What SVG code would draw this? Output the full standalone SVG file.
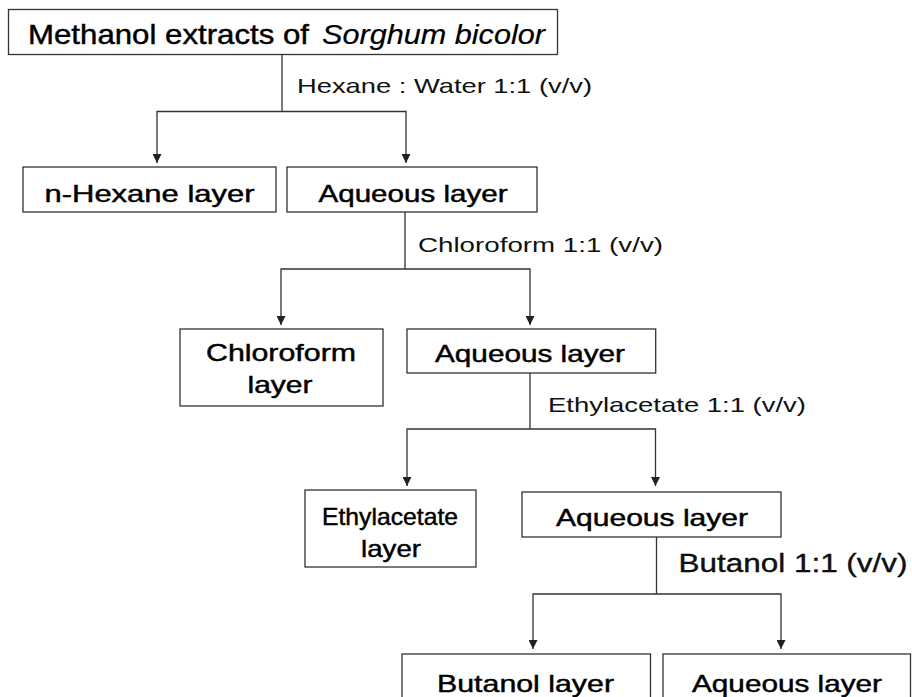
<svg xmlns="http://www.w3.org/2000/svg" width="912" height="697" viewBox="0 0 912 697">
<style>
.box{fill:#fff;stroke:#333;stroke-width:1.3}
.ln{fill:none;stroke:#333;stroke-width:1.3}
.t{font-family:"Liberation Sans",Arial,sans-serif;font-size:24px;fill:#000;stroke:#000;stroke-width:0.45}
.big{font-size:28px}
.lab{font-family:"Liberation Sans",Arial,sans-serif;font-size:21px;fill:#111}
.lab2{font-size:26px;stroke:#000;stroke-width:0.35}
.it{font-style:italic;stroke-width:0.2}
</style>
<defs>
<marker id="ah" viewBox="0 0 10 10" refX="10" refY="5" markerWidth="10" markerHeight="9" markerUnits="userSpaceOnUse" orient="auto-start-reverse">
<path d="M0,0 L10,5 L0,10 z" fill="#222"/>
</marker>
</defs>
<rect width="912" height="697" fill="#fff"/>
<g id="connectors">
<path class="ln" d="M282,54.5 V111.5"/>
<path class="ln" d="M157,163 V111.5 H406 V163" marker-start="url(#ah)" marker-end="url(#ah)"/>
<path class="ln" d="M405,212 V269"/>
<path class="ln" d="M281,325 V269 H530 V325" marker-start="url(#ah)" marker-end="url(#ah)"/>
<path class="ln" d="M530,373 V429"/>
<path class="ln" d="M407,486 V429 H655.5 V486" marker-start="url(#ah)" marker-end="url(#ah)"/>
<path class="ln" d="M656.5,537 V594"/>
<path class="ln" d="M533,649 V594 H781 V649" marker-start="url(#ah)" marker-end="url(#ah)"/>
</g>
<g id="labels">
<text class="lab" x="297" y="93" textLength="295" lengthAdjust="spacingAndGlyphs">Hexane : Water 1:1 (v/v)</text>
<text class="lab" x="418" y="251.5" textLength="245" lengthAdjust="spacingAndGlyphs">Chloroform 1:1 (v/v)</text>
<text class="lab" x="548" y="412" textLength="258" lengthAdjust="spacingAndGlyphs">Ethylacetate 1:1 (v/v)</text>
<text class="lab lab2" x="678.5" y="572" textLength="229" lengthAdjust="spacingAndGlyphs">Butanol 1:1 (v/v)</text>
</g>
<g id="methanol">
<rect class="box" x="8.5" y="9.5" width="549" height="45"/>
<text class="t big" x="28" y="43.5" textLength="281" lengthAdjust="spacingAndGlyphs">Methanol extracts of</text>
<text class="t big it" x="322" y="43.5" textLength="223" lengthAdjust="spacingAndGlyphs">Sorghum bicolor</text>
</g>
<g id="hexane">
<rect class="box" x="23" y="167" width="253" height="45"/>
<text class="t" x="149.5" y="202" text-anchor="middle" textLength="210" lengthAdjust="spacingAndGlyphs">n-Hexane layer</text>
</g>
<g id="aqueous1">
<rect class="box" x="287" y="167" width="250" height="45"/>
<text class="t" x="413" y="202" text-anchor="middle" textLength="189" lengthAdjust="spacingAndGlyphs">Aqueous layer</text>
</g>
<g id="chloroform">
<rect class="box" x="180" y="329" width="203" height="77"/>
<text class="t" x="281" y="361" text-anchor="middle" textLength="150" lengthAdjust="spacingAndGlyphs">Chloroform</text>
<text class="t" x="280" y="392.7" text-anchor="middle" textLength="65" lengthAdjust="spacingAndGlyphs">layer</text>
</g>
<g id="aqueous2">
<rect class="box" x="407" y="329" width="248.7" height="44"/>
<text class="t" x="530" y="361.5" text-anchor="middle" textLength="190" lengthAdjust="spacingAndGlyphs">Aqueous layer</text>
</g>
<g id="ethylacetate">
<rect class="box" x="305" y="490" width="171" height="77"/>
<text class="t" x="390" y="525" text-anchor="middle" textLength="136" lengthAdjust="spacingAndGlyphs">Ethylacetate</text>
<text class="t" x="391" y="557" text-anchor="middle" textLength="60" lengthAdjust="spacingAndGlyphs">layer</text>
</g>
<g id="aqueous3">
<rect class="box" x="522" y="492" width="259" height="45"/>
<text class="t" x="652" y="526" text-anchor="middle" textLength="192" lengthAdjust="spacingAndGlyphs">Aqueous layer</text>
</g>
<g id="butanol">
<rect class="box" x="402" y="654" width="248.5" height="70"/>
<text class="t" x="525.5" y="692" text-anchor="middle" textLength="177" lengthAdjust="spacingAndGlyphs">Butanol layer</text>
</g>
<g id="aqueous4">
<rect class="box" x="663" y="654" width="247.5" height="70"/>
<text class="t" x="787" y="692" text-anchor="middle" textLength="190" lengthAdjust="spacingAndGlyphs">Aqueous layer</text>
</g>
</svg>
